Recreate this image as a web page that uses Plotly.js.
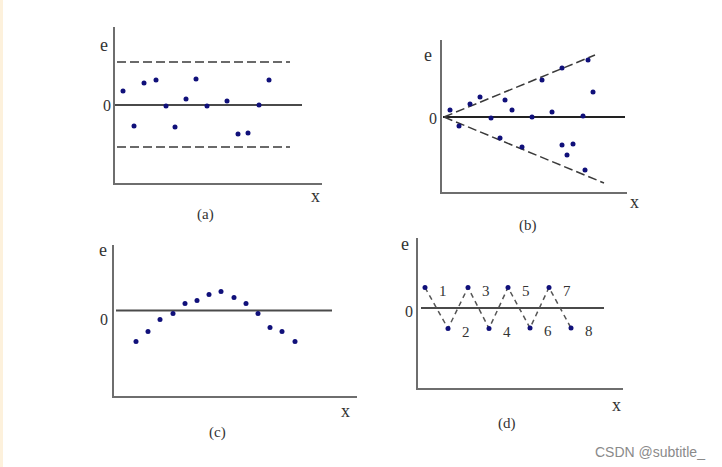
<!DOCTYPE html>
<html>
<head>
<meta charset="utf-8">
<script src="https://cdn.plot.ly/plotly-3.0.1.min.js"></script>
<style>html,body{margin:0;padding:0;background:#fff;}#chart{width:722px;height:467px;}</style>
</head>
<body>
<div id="chart"></div>
<script>
// ---- Data ----
// (a) random residuals inside a band
const aX = [0.8, 1.9, 2.9, 4.1, 5.1, 6.0, 7.1, 8.1, 9.2, 11.2, 12.3, 13.3, 14.4, 15.4];
const aE = [1.4, -2.1, 2.2, 2.5, -0.1, -2.2, 0.6, 2.6, -0.1, 0.4, -2.9, -2.8, 0.0, 2.5];
const aZeroX = [0, 18.7];
const aBandX = [0.2, 17.5];
const aBandUp = [4.3, 4.3];
const aBandLow = [-4.2, -4.2];

// (b) funnel-shaped residuals
const bX = [0.8, 1.7, 2.8, 3.8, 4.9, 5.8, 6.3, 7.0, 8.0, 9.0, 10.0, 11.0, 12.0, 12.0, 12.5, 13.1, 14.1, 14.3, 14.6, 15.1];
const bE = [0.7, -0.9, 1.3, 2.0, -0.1, -2.1, 1.7, 0.7, -3.0, 0.0, 3.7, 0.5, 4.9, -2.8, -3.8, -2.7, 0.1, -5.3, 5.7, 2.5];
const bZeroX = [0.1, 18.3];
const bUpX = [0.2, 15.3];
const bUpE = [0.0, 6.2];
const bLowX = [0.2, 16.2];
const bLowE = [0.0, -6.6];

// (c) curved residuals
const cX = [2.2, 3.4, 4.6, 5.9, 7.1, 8.3, 9.5, 10.7, 12.0, 13.2, 14.4, 15.6, 16.8, 18.1];
const cE = [-3.1, -2.1, -0.9, -0.3, 0.7, 1.0, 1.6, 1.9, 1.3, 0.7, -0.3, -1.7, -2.1, -3.1];
const cZeroX = [0.2, 21.8];

// (d) alternating residuals
const dX = [0.7, 3.0, 5.0, 7.1, 9.0, 11.2, 13.1, 15.3];
const dE = [2.05, -2.05, 2.05, -2.05, 2.05, -2.0, 2.05, -2.0];
const dOrder = ['1', '2', '3', '4', '5', '6', '7', '8'];
const dZeroX = [0.3, 18.6];

const panelTags = ['(a)', '(b)', '(c)', '(d)'];
const yName = 'e';
const xName = 'x';
const zeroTick = '0';
const watermark = 'CSDN @subtitle_';

// ---- Styling / layout ----
const W = 722, H = 467;
const px = v => v / W;
const py = v => 1 - v / H;
const dotColor = '#10107a';
const axisColor = '#6e6e6e';
const zeroColor = '#4a4a4a';
const dashColor = '#3a3a3a';
const serif = 'Liberation Serif, Times New Roman, serif';
const txtColor = '#333333';

// panel geometry in pixels: [left, right, top, bottom], plus axis ranges
const panels = [
  {l: 115, r: 322, t: 27, b: 183, xr: [0, 20.7], yr: [-7.8, 7.8]},
  {l: 442, r: 627, t: 40, b: 192, xr: [0, 18.5], yr: [-7.5, 7.7]},
  {l: 114, r: 357, t: 245, b: 396, xr: [0, 24.3], yr: [-8.54, 6.53]},
  {l: 418, r: 623, t: 238, b: 388, xr: [0, 20.5], yr: [-8.0, 7.0]}
];

const layout = {
  width: W, height: H,
  margin: {l: 0, r: 0, t: 0, b: 0},
  paper_bgcolor: '#ffffff',
  plot_bgcolor: 'rgba(0,0,0,0)',
  showlegend: false,
  annotations: [],
  shapes: [
    {type: 'rect', xref: 'paper', yref: 'paper', x0: 0, x1: px(3), y0: 0, y1: 1,
     fillcolor: '#fdf1dc', line: {width: 0}, layer: 'below'}
  ]
};

panels.forEach((p, i) => {
  const s = i === 0 ? '' : String(i + 1);
  layout['xaxis' + s] = {
    domain: [px(p.l), px(p.r)], range: p.xr, anchor: 'y' + s,
    showline: true, linecolor: axisColor, linewidth: 2,
    showgrid: false, zeroline: false, showticklabels: false, ticks: '', fixedrange: true
  };
  layout['yaxis' + s] = {
    domain: [py(p.b), py(p.t)], range: p.yr, anchor: 'x' + s,
    showline: true, linecolor: axisColor, linewidth: 2,
    showgrid: false, zeroline: false, showticklabels: false, ticks: '', fixedrange: true
  };
});

// text labels (e, 0, x, panel tag) at pixel positions
const labelPos = [
  {e: [104, 45], z: [107, 106], x: [315, 196], tag: [205, 215]},
  {e: [428, 55], z: [433, 119], x: [634, 202], tag: [528, 225]},
  {e: [103, 250], z: [104, 319], x: [345, 411], tag: [217, 432]},
  {e: [405, 244], z: [409, 311], x: [616, 405], tag: [507, 423]}
];
labelPos.forEach((lp, i) => {
  const base = {xref: 'paper', yref: 'paper', showarrow: false, xanchor: 'center', yanchor: 'middle'};
  layout.annotations.push(Object.assign({}, base, {x: px(lp.e[0]), y: py(lp.e[1]), text: yName, font: {family: serif, size: 18, color: txtColor}}));
  layout.annotations.push(Object.assign({}, base, {x: px(lp.z[0]), y: py(lp.z[1]), text: zeroTick, font: {family: serif, size: 16, color: txtColor}}));
  layout.annotations.push(Object.assign({}, base, {x: px(lp.x[0]), y: py(lp.x[1]), text: xName, font: {family: serif, size: 18, color: txtColor}}));
  layout.annotations.push(Object.assign({}, base, {x: px(lp.tag[0]), y: py(lp.tag[1]), text: panelTags[i], font: {family: serif, size: 15, color: txtColor}}));
});

// order numbers in (d)
dX.forEach((xv, i) => {
  layout.annotations.push({
    xref: 'x4', yref: 'y4', x: xv, y: dE[i], text: dOrder[i], showarrow: false,
    xshift: 18, yshift: -3, font: {family: serif, size: 15, color: txtColor}
  });
});

layout.annotations.push({
  xref: 'paper', yref: 'paper', x: px(650), y: py(452), text: watermark, showarrow: false,
  xanchor: 'center', yanchor: 'middle', font: {family: 'Liberation Sans, Arial, sans-serif', size: 14, color: '#8a8a8a'}
});

const lineTrace = (x, y, ax, color, width, dash) => ({
  type: 'scatter', mode: 'lines', x: x, y: y, xaxis: 'x' + ax, yaxis: 'y' + ax,
  line: {color: color, width: width, dash: dash}, hoverinfo: 'skip'
});
const dotTrace = (x, y, ax) => ({
  type: 'scatter', mode: 'markers', x: x, y: y, xaxis: 'x' + ax, yaxis: 'y' + ax,
  marker: {color: dotColor, size: 5}, hoverinfo: 'skip'
});

const data = [
  // (a)
  lineTrace(aZeroX, [0, 0], '', zeroColor, 2, 'solid'),
  lineTrace(aBandX, aBandUp, '', dashColor, 1.5, '9px,4px'),
  lineTrace(aBandX, aBandLow, '', dashColor, 1.5, '9px,4px'),
  dotTrace(aX, aE, ''),
  // (b)
  lineTrace(bZeroX, [0, 0], '2', '#222222', 2, 'solid'),
  lineTrace(bUpX, bUpE, '2', dashColor, 1.5, '9px,4px'),
  lineTrace(bLowX, bLowE, '2', dashColor, 1.5, '9px,4px'),
  dotTrace(bX, bE, '2'),
  // (c)
  lineTrace(cZeroX, [0, 0], '3', zeroColor, 2, 'solid'),
  dotTrace(cX, cE, '3'),
  // (d)
  lineTrace(dZeroX, [0, 0], '4', zeroColor, 2, 'solid'),
  lineTrace(dX, dE, '4', '#555555', 1.5, '5px,4px'),
  dotTrace(dX, dE, '4')
];

Plotly.newPlot('chart', data, layout, {staticPlot: true, displayModeBar: false});
</script>
</body>
</html>
